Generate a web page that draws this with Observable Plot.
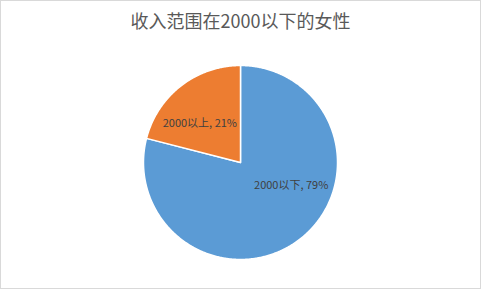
<!DOCTYPE html>
<html>
<head>
<meta charset="utf-8">
<script src="https://cdn.jsdelivr.net/npm/d3@7"></script>
<script src="https://cdn.jsdelivr.net/npm/@observablehq/plot@0.6"></script>
<style>
  html, body { margin: 0; padding: 0; background: #fff; }
  #wrap { position: relative; width: 481px; height: 289px; overflow: hidden; font-family: "Noto Sans CJK SC", "Noto Sans", sans-serif; }
  #title { position: absolute; left: 0; top: 7px; width: 481px; text-align: center; font-size: 18px; color: #595959; line-height: 26px; }
  #border { position: absolute; left: 0; top: 0; width: 479px; height: 287px; border: 1px solid #d9d9d9; pointer-events: none; }
  svg { position: absolute; left: 0; top: 0; }
</style>
</head>
<body>
<div id="wrap">
  <div id="chart"></div>
  <div id="title">收入范围在2000以下的女性</div>
  <div id="border"></div>
</div>
<script>
const chartTitle = "收入范围在2000以下的女性";
const categories = ["2000以下", "2000以上"];
const percents = [79, 21];
const colors = ["#5B9BD5", "#ED7D31"];

const pie = d3.pie().sort(null).value(d => d.value)(categories.map((c, i) => ({name: c, value: percents[i]})));

// Build slice outlines from the pie angles
const outline = [];
pie.forEach(p => {
  const name = p.data.name;
  outline.push({name, x: 0, y: 0});
  const n = Math.max(2, Math.ceil((p.endAngle - p.startAngle) / (Math.PI / 360)));
  for (let k = 0; k <= n; k++) {
    const a = p.startAngle + (p.endAngle - p.startAngle) * k / n;
    outline.push({name, x: Math.sin(a), y: Math.cos(a)});
  }
  outline.push({name, x: 0, y: 0});
});

const labels = pie.map(p => {
  const a = (p.startAngle + p.endAngle) / 2;
  return {name: p.data.name, text: `${p.data.name}, ${p.data.value}%`, x: 0.6 * Math.sin(a), y: 0.6 * Math.cos(a)};
});

const plot = Plot.plot({
  width: 481,
  height: 289,
  marginLeft: 143,
  marginRight: 144,
  marginTop: 65,
  marginBottom: 30,
  x: {domain: [-1, 1], axis: null},
  y: {domain: [-1, 1], axis: null},
  color: {domain: categories, range: colors},
  style: {fontFamily: '"Noto Sans CJK SC", "Noto Sans", sans-serif', background: "transparent"},
  marks: [
    Plot.line(outline, {x: "x", y: "y", z: "name", fill: "name", stroke: "white", strokeWidth: 1.5, strokeLinejoin: "round", curve: "linear"}),
    Plot.text(labels.filter(d => d.name === categories[0]), {x: "x", y: "y", text: "text", fill: "#404040", fontSize: 11, dx: 15, dy: -23}),
    Plot.text(labels.filter(d => d.name === categories[1]), {x: "x", y: "y", text: "text", fill: "#404040", fontSize: 11, dx: -5, dy: 7})
  ]
});
document.getElementById("chart").appendChild(plot);
</script>
</body>
</html>
